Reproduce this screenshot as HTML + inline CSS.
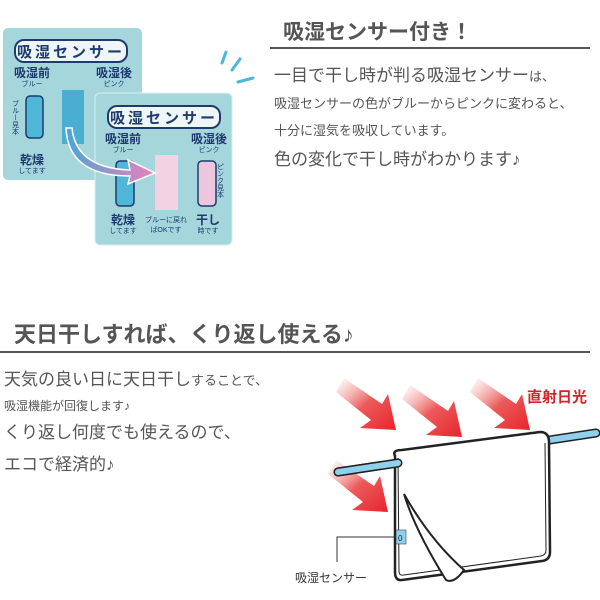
<!DOCTYPE html>
<html><head><meta charset="utf-8"><style>
body{margin:0;background:#fff}
svg{display:block}
text{font-family:"Liberation Sans","Noto Sans CJK JP",sans-serif;fill:#555}
</style></head><body>
<svg width="600" height="600" viewBox="0 0 600 600" xmlns="http://www.w3.org/2000/svg">
<defs>
<linearGradient id="ar" x1="0" y1="0" x2="1" y2="1">
<stop offset="0" stop-color="#f4a0a0" stop-opacity="0"/><stop offset="0.5" stop-color="#ec5a5a"/><stop offset="1" stop-color="#e8242c"/></linearGradient>
<linearGradient id="cu" x1="0" y1="0" x2="1" y2="0"><stop offset="0" stop-color="#4aa6d8"/><stop offset="1" stop-color="#ee7fb8"/></linearGradient>
<g id="arrow"><path d="M0 0 L38 26 L44 16 L52 52 L16 50 L27 42 L-8 14 Z" fill="url(#ar)"/></g>
</defs>
<!-- card 1 -->
<rect x="3" y="28" width="139" height="152" rx="5" fill="#a4d6dc"/>
<rect x="15" y="40" width="112" height="22" rx="9" fill="#eef6f7" stroke="#1f3a6e" stroke-width="2"/>
<text x="71" y="57" font-size="15" font-weight="bold" text-anchor="middle" style="fill:#1f3a6e" letter-spacing="3">吸湿センサー</text>
<text x="32" y="77" font-size="12" font-weight="bold" text-anchor="middle" style="fill:#1f3a6e">吸湿前</text>
<text x="32" y="86" font-size="7" text-anchor="middle" style="fill:#1f3a6e">ブルー</text>
<text x="114" y="77" font-size="12" font-weight="bold" text-anchor="middle" style="fill:#1f3a6e">吸湿後</text>
<text x="114" y="86" font-size="7" text-anchor="middle" style="fill:#1f3a6e">ピンク</text>
<text x="15" y="100" font-size="7" style="fill:#1f3a6e;writing-mode:vertical-rl">ブルー見本</text>
<rect x="26" y="96" width="17" height="42" rx="4" fill="#4eb6d6" stroke="#1f3a6e" stroke-width="1.5"/>
<rect x="62" y="90" width="22" height="54" fill="#4aaed2"/>
<text x="32" y="164" font-size="12" font-weight="bold" text-anchor="middle" style="fill:#1f3a6e">乾燥</text>
<text x="32" y="173" font-size="7" text-anchor="middle" style="fill:#1f3a6e">してます</text>
<!-- card 2 -->
<rect x="95" y="93" width="137" height="152" rx="5" fill="#a4d6dc" stroke="#d8eef0" stroke-width="1"/>
<rect x="108" y="106" width="112" height="22" rx="9" fill="#eef6f7" stroke="#1f3a6e" stroke-width="2"/>
<text x="164" y="123" font-size="15" font-weight="bold" text-anchor="middle" style="fill:#1f3a6e" letter-spacing="3">吸湿センサー</text>
<text x="123" y="143" font-size="12" font-weight="bold" text-anchor="middle" style="fill:#1f3a6e">吸湿前</text>
<text x="123" y="152" font-size="7" text-anchor="middle" style="fill:#1f3a6e">ブルー</text>
<text x="209" y="143" font-size="12" font-weight="bold" text-anchor="middle" style="fill:#1f3a6e">吸湿後</text>
<text x="209" y="152" font-size="7" text-anchor="middle" style="fill:#1f3a6e">ピンク</text>
<rect x="116" y="161" width="18" height="45" rx="4" fill="#4eb6d6" stroke="#1f3a6e" stroke-width="1.5"/>
<rect x="155" y="155" width="23" height="55" fill="#f3d3e3"/>
<rect x="198" y="161" width="18" height="45" rx="4" fill="#ecc6dc" stroke="#1f3a6e" stroke-width="1.5"/>
<text x="220" y="163" font-size="7" style="fill:#1f3a6e;writing-mode:vertical-rl">ピンク見本</text>
<text x="123" y="224" font-size="12" font-weight="bold" text-anchor="middle" style="fill:#1f3a6e">乾燥</text>
<text x="123" y="233" font-size="7" text-anchor="middle" style="fill:#1f3a6e">してます</text>
<text x="166" y="222" font-size="7" text-anchor="middle" style="fill:#1f3a6e">ブルーに戻れ</text>
<text x="166" y="232" font-size="7" text-anchor="middle" style="fill:#1f3a6e">ばOKです</text>
<text x="208" y="224" font-size="12" font-weight="bold" text-anchor="middle" style="fill:#1f3a6e">干し</text>
<text x="208" y="233" font-size="7" text-anchor="middle" style="fill:#1f3a6e">時です</text>
<!-- curved arrow -->
<path d="M72 128 Q76 168 130 170 L128 160 L155 173 L128 184 L130 176 Q68 176 66 128 Z" fill="url(#cu)" stroke="#fff" stroke-width="1.5"/>
<!-- sparkles -->
<path d="M222 63 L226 52" stroke="#4ab8d8" stroke-width="3" stroke-linecap="round"/>
<path d="M232 70 L240 59" stroke="#4ab8d8" stroke-width="3" stroke-linecap="round"/>
<path d="M238 82 L253 78" stroke="#4ab8d8" stroke-width="3" stroke-linecap="round"/>
<!-- section 1 text -->
<text x="283" y="39" font-size="21" font-weight="bold">吸湿センサー付き！</text>
<rect x="270" y="47" width="320" height="2" fill="#555"/>
<text x="274" y="81" font-size="17">一目で干し時が判る吸湿センサー<tspan font-size="13">は、</tspan></text>
<text x="274" y="108" font-size="13">吸湿センサーの色がブルーからピンクに変わると、</text>
<text x="274" y="135" font-size="13">十分に湿気を吸収しています。</text>
<text x="274" y="165" font-size="17">色の変化で干し時がわかります♪</text>
<!-- section 2 text -->
<text x="14" y="342" font-size="22" font-weight="bold">天日干しすれば、くり返し使える♪</text>
<rect x="0" y="351" width="590" height="2" fill="#555"/>
<text x="4" y="385" font-size="17">天気の良い日に天日干し<tspan font-size="13">することで、</tspan></text>
<text x="4" y="410" font-size="12">吸湿機能が回復します♪</text>
<text x="4" y="438" font-size="17">くり返し何度でも使えるので、</text>
<text x="4" y="470" font-size="17">エコで経済的♪</text>
<!-- arrows -->
<use href="#arrow" transform="translate(344,378)"/>
<use href="#arrow" transform="translate(410,385)"/>
<use href="#arrow" transform="translate(478,378)"/>
<use href="#arrow" transform="translate(336,460)"/>
<text x="527" y="402" font-size="15" font-weight="bold" style="fill:#d4232b">直射日光</text>
<!-- pole -->
<line x1="338" y1="472" x2="596" y2="433" stroke="#222" stroke-width="9" stroke-linecap="round"/>
<line x1="338" y1="472" x2="596" y2="433" stroke="#8fd0ec" stroke-width="6" stroke-linecap="round"/>
<!-- towel -->
<path d="M395 456 Q392 450 402 450 L540 432 Q549 432 549 442 L550 552 Q550 560 542 561 L402 580 Q395 581 395 572 Z" fill="#fff" stroke="#222" stroke-width="2.5"/>
<path d="M398 458 L399 571 Q399 576 404 575 L541 556 Q546 555 546 550 L545 443" fill="none" stroke="#222" stroke-width="1"/>
<line x1="338" y1="472" x2="398" y2="463" stroke="#222" stroke-width="9" stroke-linecap="round"/>
<line x1="338" y1="472" x2="398" y2="463" stroke="#8fd0ec" stroke-width="6" stroke-linecap="round"/>
<path d="M404 494 Q415 530 446 580 Q454 584 464 570 Q430 540 404 494 Z" fill="#fff" stroke="#222" stroke-width="2"/>
<rect x="396" y="530" width="10" height="14" fill="#8fd0ec" stroke="#222" stroke-width="0.5"/>
<text x="398" y="541" font-size="8" style="fill:#222">0</text>
<polyline points="396,537 337,537 337,562" fill="none" stroke="#333" stroke-width="1"/>
<text x="295" y="582" font-size="12" style="fill:#333">吸湿センサー</text>
</svg>
</body></html>
